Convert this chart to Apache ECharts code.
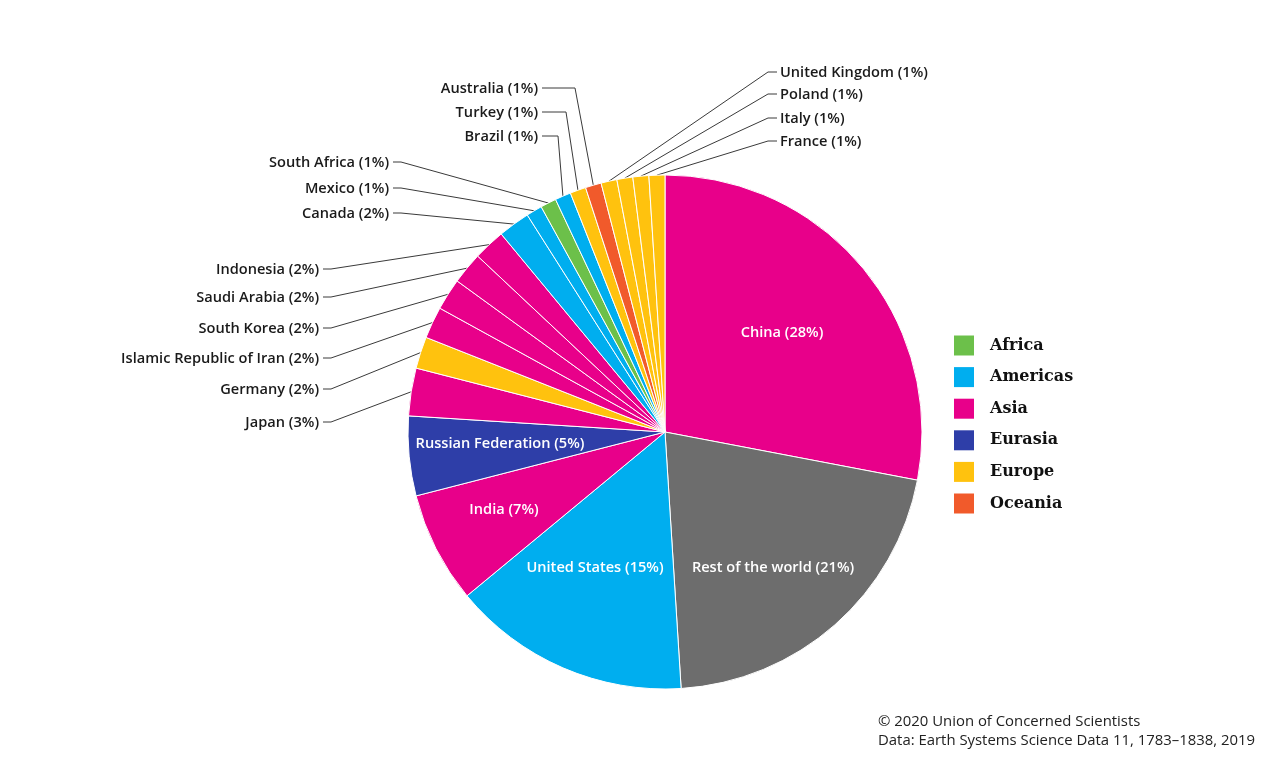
<!DOCTYPE html>
<html><head><meta charset="utf-8">
<script src="https://cdn.jsdelivr.net/npm/echarts@6/dist/echarts.min.js"></script>
<style>html,body{margin:0;padding:0;background:#fff}#c{width:1280px;height:768px}</style>
</head><body><div id="c"></div>
<script>
// ---- data ----
const countries = ['China','Rest of the world','United States','India','Russian Federation','Japan','Germany','Islamic Republic of Iran','South Korea','Saudi Arabia','Indonesia','Canada','Mexico','South Africa','Brazil','Turkey','Australia','United Kingdom','Poland','Italy','France'];
const shares = [28,21,15,7,5,3,2,2,2,2,2,2,1,1,1,1,1,1,1,1,1];
const regionOf = ['Asia','Other','Americas','Asia','Eurasia','Asia','Europe','Asia','Asia','Asia','Asia','Americas','Americas','Africa','Americas','Europe','Oceania','Europe','Europe','Europe','Europe'];
const regions = ['Africa','Americas','Asia','Eurasia','Europe','Oceania'];
const footerLines = ['© 2020 Union of Concerned Scientists','Data: Earth Systems Science Data 11, 1783–1838, 2019'];

// ---- styles / label placement (not data) ----
const regionColors = {Africa:'#6cc04a',Americas:'#00aeef',Asia:'#e8008a',Eurasia:'#2e3ea8',Europe:'#ffc20e',Oceania:'#f15a2b',Other:'#6d6d6d'};
// [x, y, mode, bendX]  mode: 'in' inside centered, 'L' right-aligned label with line to the right, 'R' left-aligned label with line to the left
const labelSpots = [
  [782,333,'in'],[773,568,'in'],[595,568,'in'],[504,510,'in'],[500,444,'in'],
  [319,422,'L',331],[319,389,'L',331],[319,358,'L',331],[319,328,'L',331],[319,297,'L',331],[319,269,'L',331],
  [389,213,'L',401],[389,188,'L',401],[389,162,'L',401],
  [538,136,'L',558],[538,112,'L',566],[538,88,'L',575],
  [780,72,'R',768],[780,94,'R',768],[780,118,'R',768],[780,141,'R',768]
];

const pieData = countries.map((name, i) => {
  const inside = labelSpots[i][2] === 'in';
  return {
    name: name,
    value: shares[i],
    itemStyle: {color: regionColors[regionOf[i]]},
    label: inside ? {position:'inside', color:'#fff'} : {position:'outside', color:'#1a1a1a'},
    labelLine: {show: !inside}
  };
});

const chart = echarts.init(document.getElementById('c'));
chart.setOption({
  animation: false,
  backgroundColor: '#fff',
  title: {
    text: footerLines.join('\n'),
    left: 878, top: 712,
    padding: 0,
    textStyle: {fontFamily:'Open Sans', fontSize: 14.9, fontWeight: 'normal', color: '#222', lineHeight: 19}
  },
  legend: {
    data: regions.map(r => ({name: r, icon: 'rect'})),
    orient: 'vertical',
    left: 954, top: 335.5,
    padding: 0,
    itemWidth: 20, itemHeight: 20, itemGap: 11.6,
    selectedMode: false,
    textStyle: {fontFamily:'DejaVu Serif', fontWeight:'bold', fontSize: 16, color:'#111', padding:[0,0,0,11]}
  },
  series: [{
    type: 'pie',
    center: [665, 432],
    radius: 257,
    startAngle: 90,
    clockwise: true,
    avoidLabelOverlap: false,
    itemStyle: {borderColor:'#fff', borderWidth: 1},
    label: {
      formatter: p => p.name + ' (' + p.value + '%)',
      fontFamily: 'Open Sans', fontSize: 14.6, fontWeight: 600
    },
    labelLine: {lineStyle: {color:'#3a3a3a', width: 1}},
    emphasis: {disabled: true},
    data: pieData,
    labelLayout: function (params) {
      const s = labelSpots[params.dataIndex];
      if (s[2] === 'in') {
        return {x: s[0], y: s[1], align: 'center', verticalAlign: 'middle'};
      }
      const p0 = params.labelLinePoints ? params.labelLinePoints[0] : [s[3], s[1]];
      if (s[2] === 'L') {
        return {x: s[0], y: s[1] + 1, align: 'right', verticalAlign: 'middle',
          labelLinePoints: [p0, [s[3], s[1]], [s[0] + 4, s[1]]]};
      }
      return {x: s[0], y: s[1] + 1, align: 'left', verticalAlign: 'middle',
        labelLinePoints: [p0, [s[3], s[1]], [s[0] - 3, s[1]]]};
    }
  }, {
    type: 'pie',
    radius: 0,
    center: [665, 432],
    silent: true,
    stillShowZeroSum: false,
    label: {show: false},
    labelLine: {show: false},
    data: regions.map(r => ({name: r, value: 0, itemStyle: {color: regionColors[r]}}))
  }]
});
</script>
</body></html>
